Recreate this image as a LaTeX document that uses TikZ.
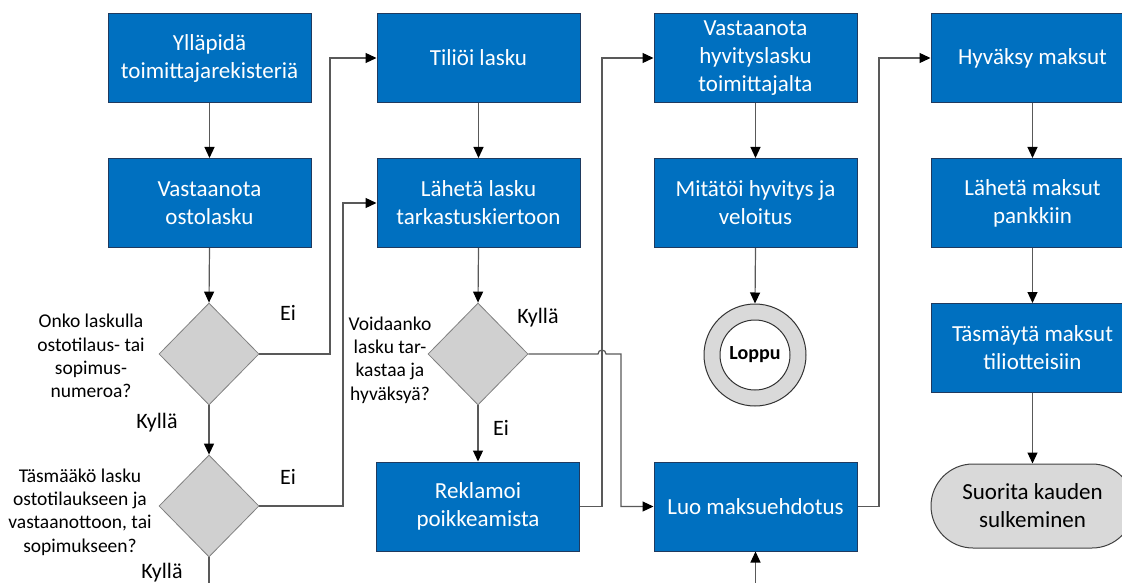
\documentclass[tikz,border=0pt]{standalone}
\usepackage{fontspec}
\setmainfont{Carlito}
\usetikzlibrary{shapes.geometric,arrows.meta,calc}
\definecolor{boxblue}{HTML}{0070C0}
\definecolor{boxline}{HTML}{1F3A5F}
\definecolor{dgray}{HTML}{D0D0D0}
\definecolor{dline}{HTML}{808080}
\definecolor{tgray}{HTML}{D9D9D9}
\definecolor{conncol}{HTML}{595959}
\tikzset{
  proc/.style={rectangle, fill=boxblue, draw=boxline, line width=1pt,
    minimum width=203pt, minimum height=89pt, inner sep=2pt, text=white,
    align=center, font=\fontsize{23}{28}\selectfont},
  dec/.style={diamond, fill=dgray, draw=dline, line width=0.8pt,
    minimum width=100pt, minimum height=102pt, inner sep=0pt},
  term/.style={rectangle, rounded corners=42pt, fill=tgray, draw=black!75,
    line width=1pt, minimum width=203pt, minimum height=84pt, align=center,
    font=\fontsize{23}{28}\selectfont},
  qtext/.style={align=center, font=\fontsize{19.5}{23.3}\selectfont, inner sep=0pt},
  lbl/.style={font=\fontsize{22}{26}\selectfont, inner sep=0pt},
  conn/.style={draw=conncol, line width=1.2pt},
  arr/.style={conn, -{Triangle[length=11pt,width=10pt,color=black]}}
}
\begin{document}
\begin{tikzpicture}[x=1pt,y=-1pt]
\useasboundingbox (0,0) rectangle (1122,583);
\clip (0,0) rectangle (1122,583);
% column 1
\node[proc] (b1) at (209.5,58) {Ylläpidä\\toimittajarekisteriä};
\node[proc] (b2) at (209.5,203) {Vastaanota\\ostolasku};
\node[dec] (d1) at (209,354) {};
\node[dec] (d2) at (209,506) {};
\node[qtext] (q1) at (91,356) {Onko laskulla\\ostotilaus- tai\\sopimus-\\numeroa?};
\node[qtext] (q2) at (80,512) {Täsmääkö lasku\\ostotilaukseen ja\\vastaanottoon, tai\\sopimukseen?};
% column 2
\node[proc] (t1) at (478.5,58) {Tiliöi lasku};
\node[proc] (t2) at (478.5,203) {Lähetä lasku\\tarkastuskiertoon};
\node[dec] (d3) at (478,354) {};
\node[qtext] (q3) at (390,360) {Voidaanko\\lasku tar-\\kastaa ja\\hyväksyä?};
\node[proc] (r1) at (478,506.5) {Reklamoi\\poikkeamista};
% column 3
\node[proc] (v1) at (755.5,58) {Vastaanota\\hyvityslasku\\toimittajalta};
\node[proc] (v2) at (755.5,203) {Mitätöi hyvitys ja\\veloitus};
\node[circle, fill=tgray, draw=black!80, line width=1pt, minimum size=102pt, inner sep=0pt] (loppu) at (755,355) {};
\node[circle, fill=white, draw=black!80, line width=1pt, minimum size=70pt, inner sep=0pt,
  font=\fontsize{20}{24}\selectfont\bfseries] (loppuin) at (loppu.center) {Loppu};
\node[proc] (luo) at (755.5,506.5) {Luo maksuehdotus};
% column 4
\node[proc] (h1) at (1032.5,58) {Hyväksy maksut};
\node[proc] (h2) at (1032.5,203) {Lähetä maksut\\pankkiin};
\node[proc] (h3) at (1032.5,348) {Täsmäytä maksut\\tiliotteisiin};
\node[term] (h4) at (1032.5,506) {Suorita kauden\\sulkeminen};
% helper coordinates
\coordinate (ax) at (330,0);
\coordinate (bx) at (343,0);
\coordinate (rx) at (602,0);
\coordinate (kx) at (621,0);
\coordinate (lx) at (879,0);
\coordinate (bot1) at (209,600);
\coordinate (bot2) at (755.5,600);
% labels
\node[lbl] (e1) at (288,313) {Ei};
\node[lbl] (k1) at (157,423) {Kyllä};
\node[lbl] (e2) at (288,477) {Ei};
\node[lbl] (k2) at (162,573) {Kyllä};
\node[lbl] (k3) at (538,318) {Kyllä};
\node[lbl] (e3) at (501,428) {Ei};
% connectors
\draw[arr] (b1.south) -- (b2.north);
\draw[arr] (b2.south) -- (d1.north);
\draw[arr] (d1.east) -| (ax |- t1.west) -- (t1.west);
\draw[arr] (d1.south) -- (d2.north);
\draw[arr] (d2.east) -| (bx |- t2.west) -- (t2.west);
\draw[conn] (d2.south) -- (bot1);
\draw[arr] (t1.south) -- (t2.north);
\draw[arr] (t2.south) -- (d3.north);
\draw[arr] (d3.south) -- (r1.north);
\draw[arr] (d3.east) -- ($(rx |- d3.east)+(-4,0)$) arc[start angle=180,end angle=0,radius=4pt]
  -- (kx |- d3.east) |- (luo.west);
\draw[arr] (r1.east) -| (rx |- v1.west) -- (v1.west);
\draw[arr] (v1.south) -- (v2.north);
\draw[arr] (v2.south) -- (loppu.north);
\draw[arr] (bot2) -- (luo.south);
\draw[arr] (luo.east) -| (lx |- h1.west) -- (h1.west);
\draw[arr] (h1.south) -- (h2.north);
\draw[arr] (h2.south) -- (h3.north);
\draw[arr] (h3.south) -- (h4.north);
\end{tikzpicture}
\end{document}
